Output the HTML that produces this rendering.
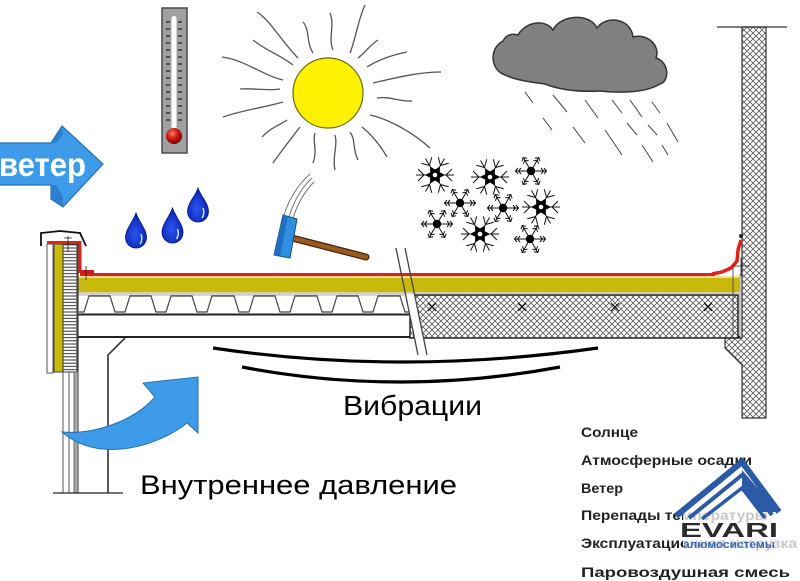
<!DOCTYPE html>
<html><head><meta charset="utf-8">
<style>html,body{margin:0;padding:0;background:#fff;}svg{display:block}</style></head>
<body>
<svg width="800" height="581" viewBox="0 0 800 581" xmlns="http://www.w3.org/2000/svg" xmlns:xlink="http://www.w3.org/1999/xlink">
<defs>
<pattern id="hx" patternUnits="userSpaceOnUse" width="6" height="6">
<rect width="6" height="6" fill="#fff"/>
<path d="M0,0L6,6M6,0L0,6" stroke="#5a5a5a" stroke-width="0.8"/>
</pattern>
<pattern id="hb" patternUnits="userSpaceOnUse" width="14" height="3.2">
<rect width="14" height="3.2" fill="#fff"/>
<line x1="0" y1="1.6" x2="14" y2="1.6" stroke="#333" stroke-width="1"/>
</pattern>
<radialGradient id="bulb" cx="0.4" cy="0.35" r="0.7"><stop offset="0" stop-color="#ff7a6a"/><stop offset="0.5" stop-color="#d0150f"/><stop offset="1" stop-color="#6a0000"/></radialGradient>
<radialGradient id="dropg" cx="0.45" cy="0.6" r="0.6"><stop offset="0" stop-color="#2a55f0"/><stop offset="1" stop-color="#0a20b0"/></radialGradient>
<g id="barm"><line x1="0" y1="0" x2="19" y2="0"/><line x1="11" y1="0" x2="17" y2="-6"/><line x1="11" y1="0" x2="17" y2="6"/></g>
<g id="big" stroke="#111" stroke-width="1" fill="none">
<use xlink:href="#barm"/><use xlink:href="#barm" transform="rotate(60)"/><use xlink:href="#barm" transform="rotate(120)"/><use xlink:href="#barm" transform="rotate(180)"/><use xlink:href="#barm" transform="rotate(240)"/><use xlink:href="#barm" transform="rotate(300)"/>
<polygon fill="#000" stroke="none" points="10,0 4.76,2.75 5,8.66 0,5.5 -5,8.66 -4.76,2.75 -10,0 -4.76,-2.75 -5,-8.66 0,-5.5 5,-8.66 4.76,-2.75"/>
<circle r="2.3" fill="#fff" stroke="none"/>
</g>
<g id="sarm"><line x1="0" y1="0" x2="16" y2="0"/><path d="M10,-3L12.5,0L10,3M13,-3L15.5,0L13,3"/></g>
<g id="small" stroke="#111" stroke-width="1" fill="none">
<use xlink:href="#sarm"/><use xlink:href="#sarm" transform="rotate(60)"/><use xlink:href="#sarm" transform="rotate(120)"/><use xlink:href="#sarm" transform="rotate(180)"/><use xlink:href="#sarm" transform="rotate(240)"/><use xlink:href="#sarm" transform="rotate(300)"/>
<circle r="4.2" fill="#000" stroke="none"/>
</g>
</defs>

<!-- Wind arrow -->
<path d="M-2,143 L51,143 L62,126 L103,164 L63,207 L51,199 L51,185 L-2,185 Z" fill="#3d9be9" stroke="#2870b8" stroke-width="1.2"/>
<polygon points="51,143 62,126 63,134 56,143" fill="#2a7fcf"/>
<polygon points="51,185 56,185 63,197 63,207 51,199" fill="#2a7fcf"/>
<text x="-1" y="176" font-family="Liberation Sans, sans-serif" font-weight="bold" font-size="33" fill="#fff" textLength="87" lengthAdjust="spacingAndGlyphs">ветер</text>

<!-- Thermometer -->
<rect x="162" y="8" width="25" height="145" fill="#a0a0a0" stroke="#4a4a4a" stroke-width="1.5"/>
<rect x="171.5" y="16" width="5" height="116" rx="2.5" fill="#fff"/>
<g stroke="#222" stroke-width="1.2">
<path d="M166,22h4M178,22h4M166,29h4M178,29h4M166,36h4M178,36h4M166,43h4M178,43h4M166,50h4M178,50h4M166,57h4M178,57h4M166,64h4M178,64h4M166,71h4M178,71h4M166,78h4M178,78h4M166,85h4M178,85h4M166,92h4M178,92h4M166,99h4M178,99h4M166,106h4M178,106h4M166,113h4M178,113h4M166,120h4M178,120h4"/>
</g>
<circle cx="174" cy="136" r="8" fill="url(#bulb)"/>

<!-- Sun rays -->
<g stroke="#555" stroke-width="1.3" fill="none">
<path d="M257,12 C270,20 282,42 298,58"/>
<path d="M303,22 C310,30 306,42 313,53"/>
<path d="M330,13 C335,25 328,38 333,50"/>
<path d="M365,5 C358,20 356,38 350,53"/>
<path d="M378,40 C370,45 366,52 358,58"/>
<path d="M253,40 C265,50 280,55 293,65"/>
<path d="M222,57 C245,60 262,75 283,80"/>
<path d="M240,89 C253,88 268,91 280,89"/>
<path d="M223,117 C243,110 262,108 283,102"/>
<path d="M262,137 C270,128 280,125 287,120"/>
<path d="M273,163 C282,150 290,140 300,127"/>
<path d="M313,163 C318,150 312,142 315,133"/>
<path d="M335,170 C332,158 338,145 335,135"/>
<path d="M358,160 C352,148 356,140 350,132"/>
<path d="M387,157 C380,145 372,135 362,127"/>
<path d="M370,115 C385,118 410,130 430,148"/>
<path d="M373,83 C395,78 418,72 441,72"/>
<path d="M377,98 C390,96 400,102 412,101"/>
<path d="M367,67 C378,60 392,55 407,52"/>
</g>
<circle cx="328" cy="93" r="35" fill="#fff200" stroke="#6a6a10" stroke-width="1.2"/>

<!-- Cloud -->
<path d="M505,75 C490,70 489,48 503,41 C506,35 512,33 518,35 C526,21 546,19 553,30 C561,14 590,13 597,28 C606,15 631,18 633,37 C646,33 661,45 656,58 C669,62 670,81 660,84 C645,93 620,93 600,91 C580,92 560,90 545,84 C530,82 515,80 505,75 Z" fill="#808080" stroke="#333" stroke-width="1.5"/>

<!-- Rain -->
<g stroke="#444" stroke-width="1">
<path d="M525,92L533,103M553,95L567,112M585,100L598,118M612,100L622,113M630,100L642,117M652,102L660,113M543,118L552,130M573,127L585,143M605,130L622,155M627,123L637,135M648,125L657,135M667,123L678,142M642,145L653,162M662,145L668,155"/>
</g>

<!-- Snowflakes -->
<use xlink:href="#big" transform="translate(435,175)"/>
<use xlink:href="#big" transform="translate(490,177)"/>
<use xlink:href="#big" transform="translate(541,207)"/>
<use xlink:href="#big" transform="translate(480,234)"/>
<use xlink:href="#small" transform="translate(531,171)"/>
<use xlink:href="#small" transform="translate(460,203)"/>
<use xlink:href="#small" transform="translate(503,208)"/>
<use xlink:href="#small" transform="translate(437,224)"/>
<use xlink:href="#small" transform="translate(530,239)"/>

<!-- Drops -->
<g fill="url(#dropg)" stroke="#00158a" stroke-width="0.8">
<path d="M136,213 C139,222 146.5,229 146.5,237.5 A10.5,10.5 0 1 1 125.5,237.5 C125.5,229 133,222 136,213 Z"/>
<path d="M172.5,208 C175.5,217 183,224 183,232.5 A10.5,10.5 0 1 1 162,232.5 C162,224 169.5,217 172.5,208 Z"/>
<path d="M198,188 C201,197 208.5,203 208.5,211.5 A10.5,10.5 0 1 1 187.5,211.5 C187.5,203 195,197 198,188 Z"/>
</g>
<g stroke="#cfe0ff" stroke-width="1.5" fill="none">
<path d="M141,234 Q143,240 140,244"/><path d="M177.5,229 Q179.5,235 176.5,239"/><path d="M203,208 Q205,214 202,218"/>
</g>

<!-- Hammer -->
<g stroke="#777" stroke-width="1" fill="none">
<path d="M284,215 Q292,190 310,174"/><path d="M289,217 Q296,193 312,178"/><path d="M293,218 Q300,196 314,182"/>
</g>
<line x1="292" y1="238" x2="366" y2="257" stroke="#4a2408" stroke-width="7" stroke-linecap="round"/>
<line x1="292" y1="238" x2="366" y2="257" stroke="#9b5a22" stroke-width="4.5" stroke-linecap="round"/>
<polygon points="283,215 297,219 290,258 274,255" fill="#2f8fe0" stroke="#134b8a" stroke-width="1"/>
<polygon points="283,215 288,216 280,256 274,255" fill="#1f6fbf"/>

<!-- Right wall -->
<path d="M742,27 L766,27 L766,418 L742,418 L742,365 L725,348 L725,338 L742,338 Z" fill="url(#hx)" stroke="#333" stroke-width="1.2"/>
<line x1="717" y1="27" x2="787" y2="27" stroke="#333" stroke-width="1.2"/>
<line x1="740" y1="274" x2="740" y2="338" stroke="#888" stroke-width="1"/>

<!-- Deck profile (left) -->
<rect x="78" y="294" width="340" height="44" fill="#fff"/>
<line x1="78" y1="295" x2="410" y2="295" stroke="#aaa" stroke-width="1"/>
<path d="M79,312 L84,312 L89,296 L110,296 L115,312 L125,312 L130,296 L151,296 L156,312 L166,312 L171,296 L192,296 L197,312 L207,312 L212,296 L234,296 L239,312 L249,312 L254,296 L275,296 L280,312 L290,312 L295,296 L317,296 L322,312 L332,312 L337,296 L358,296 L363,312 L373,312 L378,296 L400,296 L405,312 L410,312" stroke="#444" stroke-width="1.2" fill="none"/>
<line x1="78" y1="314.5" x2="412" y2="314.5" stroke="#222" stroke-width="2"/>
<line x1="78" y1="337" x2="740" y2="337" stroke="#222" stroke-width="2"/>

<!-- Hatched slab (right) -->
<rect x="410" y="295" width="328" height="43" fill="url(#hx)" stroke="#222" stroke-width="1.5"/>
<g stroke="#000" stroke-width="1">
<path d="M428,303l8,8M436,303l-8,8M518,303l8,8M526,303l-8,8M611,303l8,8M619,303l-8,8M704,303l8,8M712,303l-8,8"/>
</g>

<!-- Roof layers -->
<rect x="78" y="278" width="662" height="14" fill="#c8b90b"/>
<line x1="78" y1="277" x2="740" y2="277" stroke="#f2cf78" stroke-width="1.5"/>
<line x1="78" y1="293" x2="740" y2="293" stroke="#d8cfa8" stroke-width="2"/>
<line x1="78" y1="276" x2="78" y2="296" stroke="#777" stroke-width="1"/>
<line x1="80" y1="274.5" x2="715" y2="274.5" stroke="#e5201b" stroke-width="3"/>
<path d="M712,274 L722,272 L731,268 L737,261 L738,250 L741,240" stroke="#e5201b" stroke-width="3.5" fill="none"/>
<path d="M733,266 L750,266 M741,258 L741,276" stroke="#222" stroke-width="0.8"/>
<circle cx="741" cy="236" r="2" fill="#222"/>
<line x1="733" y1="268" x2="733" y2="338" stroke="#555" stroke-width="1"/>

<!-- Crack -->
<polygon points="405,294 414,294 427,355 418,355" fill="#fff"/>
<line x1="396" y1="248" x2="418" y2="355" stroke="#444" stroke-width="1.3"/>
<line x1="405" y1="248" x2="427" y2="355" stroke="#444" stroke-width="1.3"/>

<!-- Left parapet -->
<rect x="47" y="244" width="6" height="129" fill="#fff" stroke="#555" stroke-width="1"/>
<rect x="54" y="244" width="9" height="128" fill="#c8b90b" stroke="#444" stroke-width="1"/>
<rect x="63" y="244" width="14" height="128" fill="url(#hb)" stroke="#333" stroke-width="1"/>
<line x1="78" y1="244" x2="78" y2="493" stroke="#444" stroke-width="1.2"/>
<path d="M47,242.5 L80,242.5 L80,273" stroke="#e5201b" stroke-width="3" fill="none"/>
<rect x="80" y="270" width="14" height="5" fill="#d01a15"/>
<path d="M68,236 L68,252 M64,238 L72,238 M86,266 L86,280" stroke="#222" stroke-width="0.8"/>
<path d="M41,246 L41,233 L60,231 L80,233 L86,246" stroke="#111" stroke-width="1.8" fill="none"/>
<g stroke="#555" stroke-width="1">
<line x1="63" y1="372" x2="63" y2="493"/>
<line x1="69" y1="372" x2="69" y2="493"/>
</g>
<rect x="74" y="372" width="4" height="121" fill="#aaa" stroke="#555" stroke-width="0.8"/>
<path d="M125,338 L108,355 L108,493" stroke="#222" stroke-width="1.5" fill="none"/>
<line x1="53" y1="493" x2="123" y2="493" stroke="#222" stroke-width="1.3"/>

<!-- Vibration arcs -->
<path d="M213,348 Q400,376 598,348" stroke="#000" stroke-width="3.2" fill="none"/>
<path d="M242,367 Q400,397 560,367" stroke="#000" stroke-width="3.2" fill="none"/>

<!-- Internal pressure arrow -->
<path d="M62,432 C95,435 135,420 155,397 L143,383 L198,377 L198,433 L187,423 C160,445 100,465 62,432 Z" fill="#3d9be9" stroke="#2a6fb0" stroke-width="1"/>

<!-- Labels -->
<text x="343" y="415" font-family="Liberation Sans, sans-serif" font-size="28" fill="#000" textLength="139" lengthAdjust="spacingAndGlyphs">Вибрации</text>
<text x="140" y="494" font-family="Liberation Sans, sans-serif" font-size="27" fill="#000" textLength="317" lengthAdjust="spacingAndGlyphs">Внутреннее давление</text>

<g font-family="Liberation Sans, sans-serif" font-weight="bold" font-size="14" fill="#222">
<text x="581" y="437" textLength="57" lengthAdjust="spacingAndGlyphs">Солнце</text>
<text x="581" y="465" textLength="171" lengthAdjust="spacingAndGlyphs">Атмосферные осадки</text>
<text x="581" y="493" textLength="42" lengthAdjust="spacingAndGlyphs">Ветер</text>
<text x="581" y="520" textLength="187" lengthAdjust="spacingAndGlyphs">Перепады температуры</text>
<text x="581" y="548" textLength="216" lengthAdjust="spacingAndGlyphs">Эксплуатационная нагрузка</text>
<text x="581" y="577" textLength="209" lengthAdjust="spacingAndGlyphs">Паровоздушная смесь</text>
</g>

<!-- Logo -->
<rect x="683" y="508" width="117" height="45" fill="#fff" opacity="0.75"/>
<g stroke="#2b5aa6" fill="none" stroke-linejoin="miter">
<path d="M676,516 L742,462 L779,512" stroke-width="6"/>
<path d="M689,518 L742,475 L772,515" stroke-width="4"/>
<path d="M702,519 L742,488 L765,518" stroke-width="3.5"/>
</g>
<polygon points="742,470 778,512 760,512 742,490" fill="#2b5aa6"/>
<text x="680" y="537" font-family="Liberation Sans, sans-serif" font-weight="bold" font-size="20" fill="#2a2a2a" textLength="98" lengthAdjust="spacingAndGlyphs">EVARI</text>
<text x="683" y="548" font-family="Liberation Sans, sans-serif" font-weight="bold" font-size="11" fill="#3a66c0" textLength="92" lengthAdjust="spacingAndGlyphs">алюмосистемы</text>
</svg>
</body></html>
